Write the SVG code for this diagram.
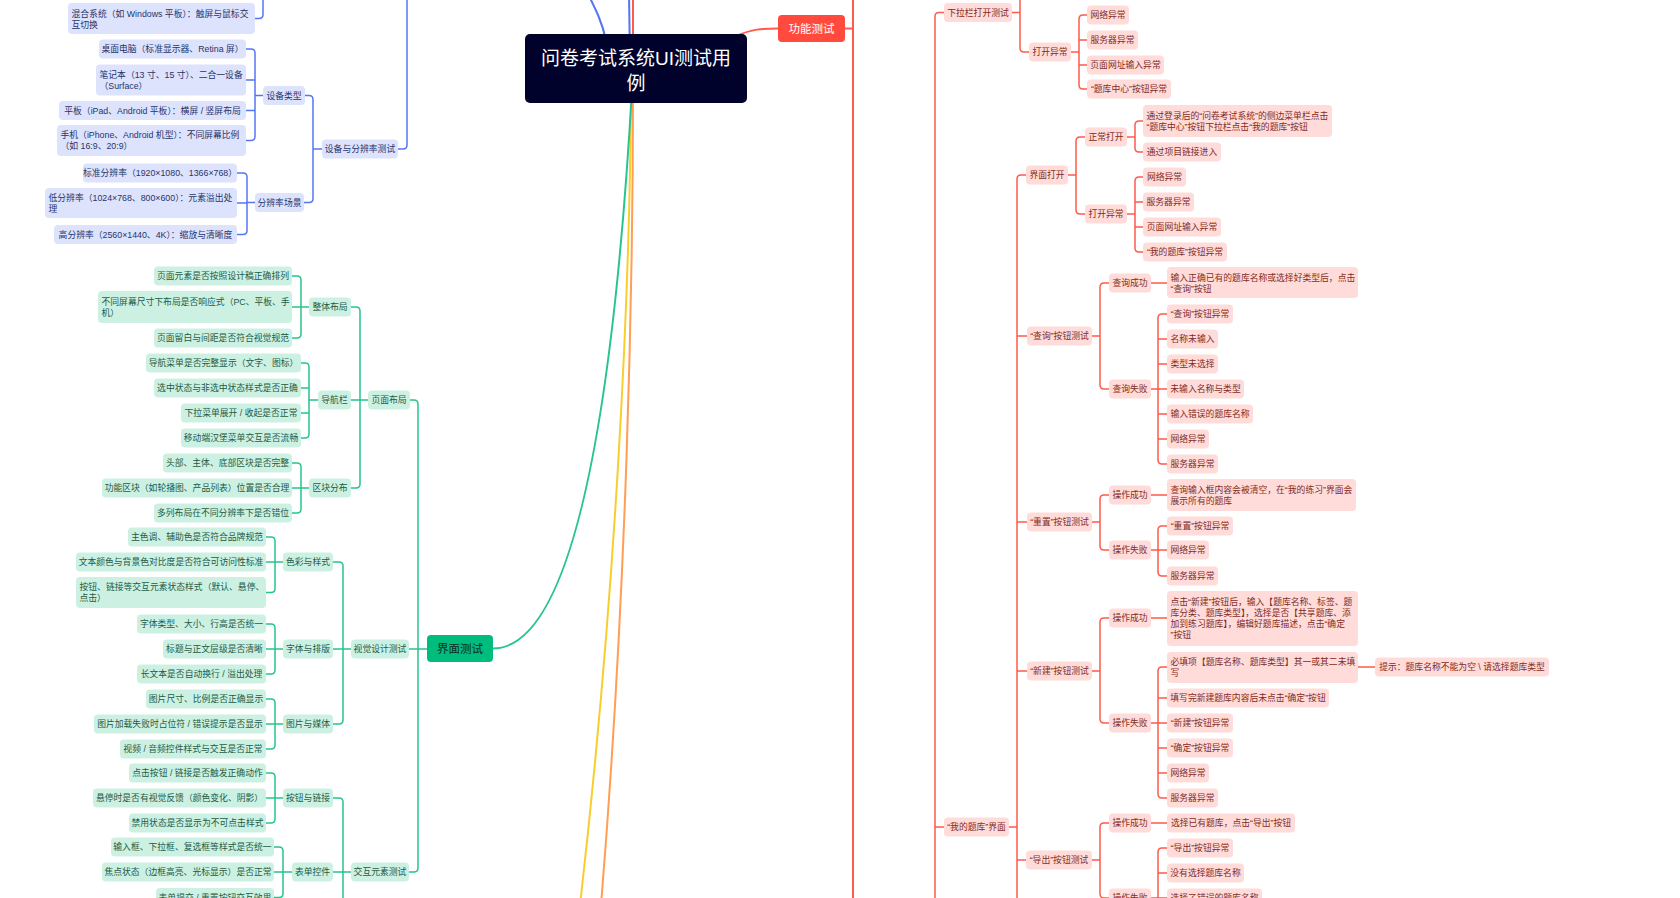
<svg xmlns="http://www.w3.org/2000/svg" width="1680" height="898" viewBox="0 0 1680 898">
<style>
.t{font-family:"Liberation Sans","Noto Sans CJK SC",sans-serif;font-size:8.8px;dominant-baseline:central}
.m{text-anchor:middle}
.s{text-anchor:start}
.nb{fill:#dde3fc}.ng{fill:#ccf1e3}.nr{fill:#ffdcd9}
.tb{fill:#27336b}.tg{fill:#1e5a45}.tr{fill:#7f2b25}
.cb,.cg,.cr,.cy,.co{fill:none;stroke-width:1.5;stroke-linecap:round;stroke-linejoin:round}
.cb{stroke:#5675f3}.cg{stroke:#27c48d}.cr{stroke:#ff5a4e}.cy{stroke:#f6cf2f;stroke-width:2}.co{stroke:#ff9e55;stroke-width:2}
.w2{stroke-width:2}
</style>
<rect x="0" y="0" width="1680" height="898" fill="#ffffff"/>
<g id="connectors">
<path class="cb w2" d="M 606 40 C 602 22, 596 10, 588 -6"/>
<path class="cb w2" d="M 630 60 L 629 -6"/>
<path class="cr w2" d="M 633 60 L 633 -6"/>
<path class="cy" d="M 631 90 C 630 300, 615 600, 580 905"/>
<path class="co" d="M 633 90 C 633 300, 626 600, 601 905"/>
<path class="cg w2" d="M 632 90 Q 600 648 493 648.5"/>
<path class="cr w2" d="M 736 36 C 752 29, 762 28.5, 778 28.5"/>
<path class="cb" d="M 398 149 H 403 Q 407 149 407 145 V -10"/>
<path class="cb" d="M 305 95.5 H 309 Q 313 95.5 313 99.5 V 198.5 Q 313 202.5 309 202.5 H 304 M 322 149 H 313"/>
<path class="cb" d="M 246 49 H 251 Q 255 49 255 53 V 136.5 Q 255 140.5 251 140.5 H 246 M 255 80 H 246 M 255 110.5 H 246 M 263 95.5 H 255"/>
<path class="cb" d="M 237 173 H 243 Q 247 173 247 177 V 230.5 Q 247 234.5 243 234.5 H 237 M 247 203 H 237 M 255 202.5 H 247"/>
<path class="cb" d="M 255 18.5 H 259 Q 263 18.5 263 14.5 V -10"/>
<path class="cg" d="M 410 400 H 414 Q 418 400 418 404 V 868 Q 418 872 414 872 H 409 M 427 649 H 409"/>
<path class="cg" d="M 351 307 H 356 Q 360 307 360 311 V 484 Q 360 488 356 488 H 351 M 368 400 H 351"/>
<path class="cg" d="M 292 276 H 297 Q 301 276 301 280 V 334 Q 301 338 297 338 H 292 M 309 307 H 292"/>
<path class="cg" d="M 301 363 H 305 Q 309 363 309 367 V 434 Q 309 438 305 438 H 301 M 309 388 H 301 M 309 413 H 301 M 318 400 H 309"/>
<path class="cg" d="M 292 463 H 297 Q 301 463 301 467 V 509 Q 301 513 297 513 H 292 M 309 488 H 292"/>
<path class="cg" d="M 333 562 H 339 Q 343 562 343 566 V 720 Q 343 724 339 724 H 333 M 351 649 H 333"/>
<path class="cg" d="M 266 537 H 271 Q 275 537 275 541 V 588.5 Q 275 592.5 271 592.5 H 266 M 283 562 H 266"/>
<path class="cg" d="M 266 624 H 271 Q 275 624 275 628 V 670 Q 275 674 271 674 H 266 M 283 649 H 266"/>
<path class="cg" d="M 266 699 H 271 Q 275 699 275 703 V 745 Q 275 749 271 749 H 266 M 283 724 H 266"/>
<path class="cg" d="M 333 798 H 339 Q 343 798 343 802 V 910 M 351 872 H 333"/>
<path class="cg" d="M 266 773 H 271 Q 275 773 275 777 V 819 Q 275 823 271 823 H 266 M 283 798 H 266"/>
<path class="cg" d="M 274 847 H 279 Q 283 847 283 851 V 893.5 Q 283 897.5 279 897.5 H 274 M 292 872 H 274"/>
<path class="cr w2" d="M 845 28.5 H 853 M 853 -10 V 910"/>
<path class="cr" d="M 944 12.5 H 939 Q 935 12.5 935 16.5 V 910 M 935 827 H 944"/>
<path class="cr" d="M 1012 12.5 H 1020 M 1020 -10 V 48 Q 1020 52 1024 52 H 1029"/>
<path class="cr" d="M 1087 15 H 1083 Q 1079 15 1079 19 V 85 Q 1079 89 1083 89 H 1087 M 1079 40 H 1087 M 1079 65 H 1087 M 1071 52 H 1079"/>
<path class="cr" d="M 1009 827 H 1017 M 1026 175 H 1021 Q 1017 175 1017 179 V 910 M 1017 336 H 1027 M 1017 522 H 1027 M 1017 671 H 1027 M 1017 860 H 1026"/>
<path class="cr" d="M 1085 137 H 1080 Q 1076 137 1076 141 V 210 Q 1076 214 1080 214 H 1085 M 1068 175 H 1076"/>
<path class="cr" d="M 1143 121 H 1139 Q 1135 121 1135 125 V 148 Q 1135 152 1139 152 H 1143 M 1127 137 H 1135"/>
<path class="cr" d="M 1143 177 H 1139 Q 1135 177 1135 181 V 248 Q 1135 252 1139 252 H 1143 M 1135 202 H 1143 M 1135 227 H 1143 M 1127 214 H 1135"/>
<path class="cr" d="M 1109 283 H 1104 Q 1100 283 1100 287 V 385 Q 1100 389 1104 389 H 1109 M 1092 336 H 1100 M 1151 283 H 1167"/>
<path class="cr" d="M 1167 314 H 1162 Q 1158 314 1158 318 V 460 Q 1158 464 1162 464 H 1167 M 1158 339 H 1167 M 1158 364 H 1167 M 1151 389 H 1167 M 1158 414 H 1167 M 1158 439 H 1167"/>
<path class="cr" d="M 1109 495 H 1104 Q 1100 495 1100 499 V 546 Q 1100 550 1104 550 H 1109 M 1092 522 H 1100 M 1151 495 H 1167"/>
<path class="cr" d="M 1167 526 H 1162 Q 1158 526 1158 530 V 572 Q 1158 576 1162 576 H 1167 M 1151 550 H 1167"/>
<path class="cr" d="M 1109 618 H 1104 Q 1100 618 1100 622 V 719 Q 1100 723 1104 723 H 1109 M 1092 671 H 1100 M 1151 618 H 1167"/>
<path class="cr" d="M 1167 667 H 1162 Q 1158 667 1158 671 V 794 Q 1158 798 1162 798 H 1167 M 1158 698 H 1167 M 1151 723 H 1167 M 1158 748 H 1167 M 1158 773 H 1167 M 1358 667 H 1375"/>
<path class="cr" d="M 1109 823 H 1104 Q 1100 823 1100 827 V 894 Q 1100 898 1104 898 H 1109 M 1092 860 H 1100 M 1151 823 H 1167"/>
<path class="cr" d="M 1167 848 H 1162 Q 1158 848 1158 852 V 910 M 1158 873 H 1167 M 1151 898 H 1167"/>
</g>
<g id="root"><rect x="525" y="34" width="222" height="69" rx="5" fill="#01022b"/><text class="t m" x="636" y="58" font-size="19" fill="#ffffff" style="font-size:19px">问卷考试系统UI测试用</text><text class="t m" x="636" y="83" style="font-size:19px" fill="#ffffff">例</text></g>
<g id="n-jiemian"><rect x="427" y="635" width="66" height="27" rx="4" fill="#00bd7e"/><text class="t m" x="460" y="648.5" style="font-size:11.5px" fill="#0a2e20">界面测试</text></g>
<g id="n-gongneng"><rect x="778" y="15" width="67" height="27" rx="4" fill="#ff4a3d"/><text class="t m" x="811.5" y="28.5" style="font-size:11.5px" fill="#ffffff">功能测试</text></g>
<g id="b1"><rect class="nb" x="68" y="3" width="187" height="31" rx="4"/><text class="t s tb" x="71.5" y="13.5">混合系统（如 Windows 平板）：触屏与鼠标交</text><text class="t s tb" x="71.5" y="24.5">互切换</text></g>
<g id="b2"><rect class="nb" x="99" y="39.5" width="147" height="19" rx="4"/><text class="t m tb" x="172.5" y="49">桌面电脑（标准显示器、Retina 屏）</text></g>
<g id="b3"><rect class="nb" x="96" y="64.5" width="150" height="31" rx="4"/><text class="t s tb" x="99.5" y="74.5">笔记本（13 寸、15 寸）、二合一设备</text><text class="t s tb" x="99.5" y="85.5">（Surface）</text></g>
<g id="b4"><rect class="nb" x="59" y="101" width="187" height="19" rx="4"/><text class="t m tb" x="152.5" y="110.5">平板（iPad、Android 平板）：横屏 / 竖屏布局</text></g>
<g id="b5"><rect class="nb" x="57" y="125" width="189" height="31" rx="4"/><text class="t s tb" x="60.5" y="135">手机（iPhone、Android 机型）：不同屏幕比例</text><text class="t s tb" x="60.5" y="146">（如 16:9、20:9）</text></g>
<g id="b6"><rect class="nb" x="263" y="86" width="42" height="19" rx="4"/><text class="t m tb" x="284" y="95.5">设备类型</text></g>
<g id="b7"><rect class="nb" x="255" y="193" width="49" height="19" rx="4"/><text class="t m tb" x="279.5" y="202.5">分辨率场景</text></g>
<g id="b8"><rect class="nb" x="322" y="139.5" width="76" height="19" rx="4"/><text class="t m tb" x="360" y="149">设备与分辨率测试</text></g>
<g id="b9"><rect class="nb" x="83" y="163.5" width="154" height="19" rx="4"/><text class="t m tb" x="160" y="173">标准分辨率（1920×1080、1366×768）</text></g>
<g id="b10"><rect class="nb" x="45" y="188" width="192" height="30" rx="4"/><text class="t s tb" x="48.5" y="197.5">低分辨率（1024×768、800×600）：元素溢出处</text><text class="t s tb" x="48.5" y="208.5">理</text></g>
<g id="b11"><rect class="nb" x="54" y="225" width="183" height="19" rx="4"/><text class="t m tb" x="145.5" y="234.5">高分辨率（2560×1440、4K）：缩放与清晰度</text></g>
<g id="g1"><rect class="ng" x="154" y="266.5" width="138" height="19" rx="4"/><text class="t m tg" x="223" y="276">页面元素是否按照设计稿正确排列</text></g>
<g id="g2"><rect class="ng" x="98" y="291" width="194" height="32" rx="4"/><text class="t s tg" x="101.5" y="301.5">不同屏幕尺寸下布局是否响应式（PC、平板、手</text><text class="t s tg" x="101.5" y="312.5">机）</text></g>
<g id="g3"><rect class="ng" x="154" y="328.5" width="138" height="19" rx="4"/><text class="t m tg" x="223" y="338">页面留白与间距是否符合视觉规范</text></g>
<g id="g4"><rect class="ng" x="309" y="297.5" width="42" height="19" rx="4"/><text class="t m tg" x="330" y="307">整体布局</text></g>
<g id="g5"><rect class="ng" x="146" y="353.5" width="155" height="19" rx="4"/><text class="t m tg" x="223.5" y="363">导航菜单是否完整显示（文字、图标）</text></g>
<g id="g6"><rect class="ng" x="154" y="378.5" width="147" height="19" rx="4"/><text class="t m tg" x="227.5" y="388">选中状态与非选中状态样式是否正确</text></g>
<g id="g7"><rect class="ng" x="181" y="403.5" width="120" height="19" rx="4"/><text class="t m tg" x="241" y="413">下拉菜单展开 / 收起是否正常</text></g>
<g id="g8"><rect class="ng" x="181" y="428.5" width="120" height="19" rx="4"/><text class="t m tg" x="241" y="438">移动端汉堡菜单交互是否流畅</text></g>
<g id="g9"><rect class="ng" x="318" y="390.5" width="33" height="19" rx="4"/><text class="t m tg" x="334.5" y="400">导航栏</text></g>
<g id="g10"><rect class="ng" x="163" y="453.5" width="129" height="19" rx="4"/><text class="t m tg" x="227.5" y="463">头部、主体、底部区块是否完整</text></g>
<g id="g11"><rect class="ng" x="102" y="478.5" width="190" height="19" rx="4"/><text class="t m tg" x="197" y="488">功能区块（如轮播图、产品列表）位置是否合理</text></g>
<g id="g12"><rect class="ng" x="154" y="503.5" width="138" height="19" rx="4"/><text class="t m tg" x="223" y="513">多列布局在不同分辨率下是否错位</text></g>
<g id="g13"><rect class="ng" x="309" y="478.5" width="42" height="19" rx="4"/><text class="t m tg" x="330" y="488">区块分布</text></g>
<g id="g14"><rect class="ng" x="368" y="390.5" width="42" height="19" rx="4"/><text class="t m tg" x="389" y="400">页面布局</text></g>
<g id="g15"><rect class="ng" x="128" y="527.5" width="138" height="19" rx="4"/><text class="t m tg" x="197" y="537">主色调、辅助色是否符合品牌规范</text></g>
<g id="g16"><rect class="ng" x="76" y="552.5" width="190" height="19" rx="4"/><text class="t m tg" x="171" y="562">文本颜色与背景色对比度是否符合可访问性标准</text></g>
<g id="g17"><rect class="ng" x="76" y="577" width="190" height="31" rx="4"/><text class="t s tg" x="79.5" y="587">按钮、链接等交互元素状态样式（默认、悬停、</text><text class="t s tg" x="79.5" y="598">点击）</text></g>
<g id="g18"><rect class="ng" x="283" y="552.5" width="50" height="19" rx="4"/><text class="t m tg" x="308" y="562">色彩与样式</text></g>
<g id="g19"><rect class="ng" x="137" y="614.5" width="129" height="19" rx="4"/><text class="t m tg" x="201.5" y="624">字体类型、大小、行高是否统一</text></g>
<g id="g20"><rect class="ng" x="163" y="639.5" width="103" height="19" rx="4"/><text class="t m tg" x="214.5" y="649">标题与正文层级是否清晰</text></g>
<g id="g21"><rect class="ng" x="137" y="664.5" width="129" height="19" rx="4"/><text class="t m tg" x="201.5" y="674">长文本是否自动换行 / 溢出处理</text></g>
<g id="g22"><rect class="ng" x="283" y="639.5" width="50" height="19" rx="4"/><text class="t m tg" x="308" y="649">字体与排版</text></g>
<g id="g23"><rect class="ng" x="351" y="639.5" width="58" height="19" rx="4"/><text class="t m tg" x="380" y="649">视觉设计测试</text></g>
<g id="g24"><rect class="ng" x="146" y="689.5" width="120" height="19" rx="4"/><text class="t m tg" x="206" y="699">图片尺寸、比例是否正确显示</text></g>
<g id="g25"><rect class="ng" x="94" y="714.5" width="172" height="19" rx="4"/><text class="t m tg" x="180" y="724">图片加载失败时占位符 / 错误提示是否显示</text></g>
<g id="g26"><rect class="ng" x="120" y="739.5" width="146" height="19" rx="4"/><text class="t m tg" x="193" y="749">视频 / 音频控件样式与交互是否正常</text></g>
<g id="g27"><rect class="ng" x="283" y="714.5" width="50" height="19" rx="4"/><text class="t m tg" x="308" y="724">图片与媒体</text></g>
<g id="g28"><rect class="ng" x="129" y="763.5" width="137" height="19" rx="4"/><text class="t m tg" x="197.5" y="773">点击按钮 / 链接是否触发正确动作</text></g>
<g id="g29"><rect class="ng" x="93" y="788.5" width="173" height="19" rx="4"/><text class="t m tg" x="179.5" y="798">悬停时是否有视觉反馈（颜色变化、阴影）</text></g>
<g id="g30"><rect class="ng" x="129" y="813.5" width="137" height="19" rx="4"/><text class="t m tg" x="197.5" y="823">禁用状态是否显示为不可点击样式</text></g>
<g id="g31"><rect class="ng" x="283" y="788.5" width="50" height="19" rx="4"/><text class="t m tg" x="308" y="798">按钮与链接</text></g>
<g id="g32"><rect class="ng" x="111" y="837.5" width="163" height="19" rx="4"/><text class="t m tg" x="192.5" y="847">输入框、下拉框、复选框等样式是否统一</text></g>
<g id="g33"><rect class="ng" x="102" y="862.5" width="172" height="19" rx="4"/><text class="t m tg" x="188" y="872">焦点状态（边框高亮、光标显示）是否正常</text></g>
<g id="g34"><rect class="ng" x="156" y="888" width="118" height="19" rx="4"/><text class="t m tg" x="215" y="897.5">表单提交 / 重置按钮交互效果</text></g>
<g id="g35"><rect class="ng" x="292" y="862.5" width="41" height="19" rx="4"/><text class="t m tg" x="312.5" y="872">表单控件</text></g>
<g id="g36"><rect class="ng" x="351" y="862.5" width="58" height="19" rx="4"/><text class="t m tg" x="380" y="872">交互元素测试</text></g>
<g id="r1"><rect class="nr" x="944" y="3" width="68" height="19" rx="4"/><text class="t m tr" x="978" y="12.5">下拉栏打开测试</text></g>
<g id="r2"><rect class="nr" x="1029" y="42.5" width="42" height="19" rx="4"/><text class="t m tr" x="1050" y="52">打开异常</text></g>
<g id="r3"><rect class="nr" x="1087" y="5.5" width="42" height="19" rx="4"/><text class="t m tr" x="1108" y="15">网络异常</text></g>
<g id="r4"><rect class="nr" x="1087" y="30.5" width="51" height="19" rx="4"/><text class="t m tr" x="1112.5" y="40">服务器异常</text></g>
<g id="r5"><rect class="nr" x="1087" y="55.5" width="77" height="19" rx="4"/><text class="t m tr" x="1125.5" y="65">页面网址输入异常</text></g>
<g id="r6"><rect class="nr" x="1087" y="79.5" width="84" height="19" rx="4"/><text class="t m tr" x="1129" y="89">“题库中心”按钮异常</text></g>
<g id="r7"><rect class="nr" x="1026" y="165.5" width="42" height="19" rx="4"/><text class="t m tr" x="1047" y="175">界面打开</text></g>
<g id="r8"><rect class="nr" x="1085" y="127.5" width="42" height="19" rx="4"/><text class="t m tr" x="1106" y="137">正常打开</text></g>
<g id="r9"><rect class="nr" x="1143" y="105" width="189" height="32" rx="4"/><text class="t s tr" x="1146.5" y="115.5">通过登录后的“问卷考试系统”的侧边菜单栏点击</text><text class="t s tr" x="1146.5" y="126.5">“题库中心”按钮下拉栏点击“我的题库”按钮</text></g>
<g id="r10"><rect class="nr" x="1143" y="142.5" width="78" height="19" rx="4"/><text class="t m tr" x="1182" y="152">通过项目链接进入</text></g>
<g id="r11"><rect class="nr" x="1085" y="204.5" width="42" height="19" rx="4"/><text class="t m tr" x="1106" y="214">打开异常</text></g>
<g id="r12"><rect class="nr" x="1143" y="167.5" width="43" height="19" rx="4"/><text class="t m tr" x="1164.5" y="177">网络异常</text></g>
<g id="r13"><rect class="nr" x="1143" y="192.5" width="51" height="19" rx="4"/><text class="t m tr" x="1168.5" y="202">服务器异常</text></g>
<g id="r14"><rect class="nr" x="1143" y="217.5" width="78" height="19" rx="4"/><text class="t m tr" x="1182" y="227">页面网址输入异常</text></g>
<g id="r15"><rect class="nr" x="1143" y="242.5" width="84" height="19" rx="4"/><text class="t m tr" x="1185" y="252">“我的题库”按钮异常</text></g>
<g id="r16"><rect class="nr" x="1027" y="326.5" width="65" height="19" rx="4"/><text class="t m tr" x="1059.5" y="336">“查询”按钮测试</text></g>
<g id="r17"><rect class="nr" x="1109" y="273.5" width="42" height="19" rx="4"/><text class="t m tr" x="1130" y="283">查询成功</text></g>
<g id="r18"><rect class="nr" x="1167" y="267" width="191" height="31" rx="4"/><text class="t s tr" x="1170.5" y="277.5">输入正确已有的题库名称或选择好类型后，点击</text><text class="t s tr" x="1170.5" y="288.5">“查询”按钮</text></g>
<g id="r19"><rect class="nr" x="1109" y="379.5" width="42" height="19" rx="4"/><text class="t m tr" x="1130" y="389">查询失败</text></g>
<g id="r20"><rect class="nr" x="1167" y="304.5" width="66" height="19" rx="4"/><text class="t m tr" x="1200" y="314">“查询”按钮异常</text></g>
<g id="r21"><rect class="nr" x="1167" y="329.5" width="51" height="19" rx="4"/><text class="t m tr" x="1192.5" y="339">名称未输入</text></g>
<g id="r22"><rect class="nr" x="1167" y="354.5" width="51" height="19" rx="4"/><text class="t m tr" x="1192.5" y="364">类型未选择</text></g>
<g id="r23"><rect class="nr" x="1167" y="379.5" width="77" height="19" rx="4"/><text class="t m tr" x="1205.5" y="389">未输入名称与类型</text></g>
<g id="r24"><rect class="nr" x="1167" y="404.5" width="86" height="19" rx="4"/><text class="t m tr" x="1210" y="414">输入错误的题库名称</text></g>
<g id="r25"><rect class="nr" x="1167" y="429.5" width="42" height="19" rx="4"/><text class="t m tr" x="1188" y="439">网络异常</text></g>
<g id="r26"><rect class="nr" x="1167" y="454.5" width="51" height="19" rx="4"/><text class="t m tr" x="1192.5" y="464">服务器异常</text></g>
<g id="r27"><rect class="nr" x="1027" y="512.5" width="65" height="19" rx="4"/><text class="t m tr" x="1059.5" y="522">“重置”按钮测试</text></g>
<g id="r28"><rect class="nr" x="1109" y="485.5" width="42" height="19" rx="4"/><text class="t m tr" x="1130" y="495">操作成功</text></g>
<g id="r29"><rect class="nr" x="1167" y="479" width="189" height="32" rx="4"/><text class="t s tr" x="1170.5" y="489.5">查询输入框内容会被清空，在“我的练习”界面会</text><text class="t s tr" x="1170.5" y="500.5">展示所有的题库</text></g>
<g id="r30"><rect class="nr" x="1109" y="540.5" width="42" height="19" rx="4"/><text class="t m tr" x="1130" y="550">操作失败</text></g>
<g id="r31"><rect class="nr" x="1167" y="516.5" width="66" height="19" rx="4"/><text class="t m tr" x="1200" y="526">“重置”按钮异常</text></g>
<g id="r32"><rect class="nr" x="1167" y="540.5" width="42" height="19" rx="4"/><text class="t m tr" x="1188" y="550">网络异常</text></g>
<g id="r33"><rect class="nr" x="1167" y="566.5" width="51" height="19" rx="4"/><text class="t m tr" x="1192.5" y="576">服务器异常</text></g>
<g id="r34"><rect class="nr" x="1027" y="661.5" width="65" height="19" rx="4"/><text class="t m tr" x="1059.5" y="671">“新建”按钮测试</text></g>
<g id="r35"><rect class="nr" x="1109" y="608.5" width="42" height="19" rx="4"/><text class="t m tr" x="1130" y="618">操作成功</text></g>
<g id="r36"><rect class="nr" x="1167" y="591" width="191" height="55" rx="4"/><text class="t s tr" x="1170.5" y="602">点击“新建”按钮后，输入【题库名称、标签、题</text><text class="t s tr" x="1170.5" y="613">库分类、题库类型】，选择是否【共享题库、添</text><text class="t s tr" x="1170.5" y="624">加到练习题库】，编辑好题库描述，点击“确定</text><text class="t s tr" x="1170.5" y="635">”按钮</text></g>
<g id="r37"><rect class="nr" x="1109" y="713.5" width="42" height="19" rx="4"/><text class="t m tr" x="1130" y="723">操作失败</text></g>
<g id="r38"><rect class="nr" x="1167" y="652" width="191" height="31" rx="4"/><text class="t s tr" x="1170.5" y="662">必填项【题库名称、题库类型】其一或其二未填</text><text class="t s tr" x="1170.5" y="673">写</text></g>
<g id="r39"><rect class="nr" x="1375" y="657.5" width="174" height="19" rx="4"/><text class="t m tr" x="1462" y="667">提示：题库名称不能为空 \ 请选择题库类型</text></g>
<g id="r40"><rect class="nr" x="1167" y="688.5" width="162" height="19" rx="4"/><text class="t m tr" x="1248" y="698">填写完新建题库内容后未点击“确定”按钮</text></g>
<g id="r41"><rect class="nr" x="1167" y="713.5" width="66" height="19" rx="4"/><text class="t m tr" x="1200" y="723">“新建”按钮异常</text></g>
<g id="r42"><rect class="nr" x="1167" y="738.5" width="66" height="19" rx="4"/><text class="t m tr" x="1200" y="748">“确定”按钮异常</text></g>
<g id="r43"><rect class="nr" x="1167" y="763.5" width="42" height="19" rx="4"/><text class="t m tr" x="1188" y="773">网络异常</text></g>
<g id="r44"><rect class="nr" x="1167" y="788.5" width="51" height="19" rx="4"/><text class="t m tr" x="1192.5" y="798">服务器异常</text></g>
<g id="r45"><rect class="nr" x="944" y="817.5" width="65" height="19" rx="4"/><text class="t m tr" x="976.5" y="827">“我的题库”界面</text></g>
<g id="r46"><rect class="nr" x="1109" y="813.5" width="42" height="19" rx="4"/><text class="t m tr" x="1130" y="823">操作成功</text></g>
<g id="r47"><rect class="nr" x="1167" y="813.5" width="128" height="19" rx="4"/><text class="t m tr" x="1231" y="823">选择已有题库，点击“导出”按钮</text></g>
<g id="r48"><rect class="nr" x="1026" y="850.5" width="66" height="19" rx="4"/><text class="t m tr" x="1059" y="860">“导出”按钮测试</text></g>
<g id="r49"><rect class="nr" x="1109" y="888.5" width="42" height="19" rx="4"/><text class="t m tr" x="1130" y="898">操作失败</text></g>
<g id="r50"><rect class="nr" x="1167" y="838.5" width="66" height="19" rx="4"/><text class="t m tr" x="1200" y="848">“导出”按钮异常</text></g>
<g id="r51"><rect class="nr" x="1167" y="863.5" width="77" height="19" rx="4"/><text class="t m tr" x="1205.5" y="873">没有选择题库名称</text></g>
<g id="r52"><rect class="nr" x="1167" y="888.5" width="95" height="19" rx="4"/><text class="t m tr" x="1214.5" y="898">选择了错误的题库名称</text></g>
</svg>
